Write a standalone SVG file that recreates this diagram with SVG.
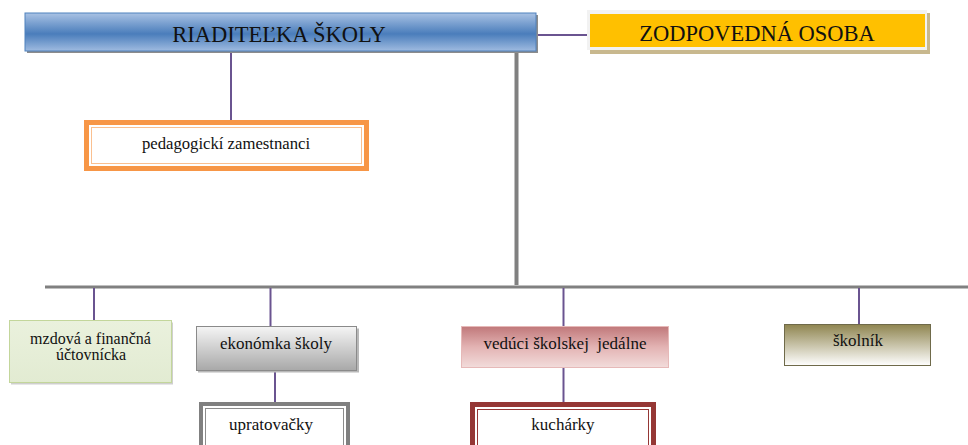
<svg xmlns="http://www.w3.org/2000/svg" width="968" height="445" viewBox="0 0 968 445">
<defs>
<linearGradient id="gBlue" x1="0" y1="0" x2="0" y2="1"><stop offset="0" stop-color="#a9c2e4"/><stop offset="0.55" stop-color="#4a7dbb"/><stop offset="1" stop-color="#9fbbe0"/></linearGradient>
<linearGradient id="gGreen" x1="0" y1="0" x2="0" y2="1"><stop offset="0" stop-color="#eaf1dd"/><stop offset="1" stop-color="#e2ebd2"/></linearGradient>
<linearGradient id="gGray" x1="0" y1="0" x2="0" y2="1"><stop offset="0" stop-color="#f5f5f5"/><stop offset="1" stop-color="#a8a8a8"/></linearGradient>
<linearGradient id="gPink" x1="0" y1="0" x2="0" y2="1"><stop offset="0" stop-color="#c0787a"/><stop offset="0.5" stop-color="#e3b3b3"/><stop offset="1" stop-color="#f2dcdb"/></linearGradient>
<linearGradient id="gOlive" x1="0" y1="0" x2="0" y2="1"><stop offset="0" stop-color="#8f8550"/><stop offset="1" stop-color="#ffffff"/></linearGradient>
</defs>
<style>
.p{stroke:#6a5490;stroke-width:2;fill:none}
.g{stroke:#808080;fill:none}
.sh{fill:#8c8c8c}
</style>
<g id="connectors">
<line class="p" x1="537" y1="35" x2="587" y2="35"/>
<line class="p" x1="231" y1="53" x2="231" y2="121"/>
<line class="g" x1="516.5" y1="53" x2="516.5" y2="285" stroke-width="4"/>
<line class="g" x1="45" y1="287" x2="968" y2="287" stroke-width="3"/>
<line class="p" x1="94" y1="288" x2="94" y2="321"/>
<line class="p" x1="270.5" y1="288" x2="270.5" y2="327"/>
<line class="p" x1="563.5" y1="288" x2="563.5" y2="327"/>
<line class="p" x1="859" y1="288" x2="859" y2="325"/>
<line class="p" x1="275" y1="371" x2="275" y2="402"/>
<line class="p" x1="563.5" y1="368" x2="563.5" y2="403"/>
</g>
<g id="riaditelka">
<rect x="27" y="15" width="511" height="38" class="sh"/>
<rect x="25" y="13" width="511" height="38" fill="url(#gBlue)" stroke="#4f81bd" stroke-width="1"/>
<text x="279" y="41.5" font-size="22.5" font-family="Liberation Serif" text-anchor="middle" fill="#111">RIADITEĽKA ŠKOLY</text>
</g>
<g id="zodpovedna">
<rect x="590" y="13" width="340" height="41" fill="#c8b88e"/>
<rect x="587" y="10" width="340" height="40" fill="#f2f2f2"/>
<rect x="590" y="14" width="335" height="33" fill="#ffc000"/>
<text x="757" y="40.5" font-size="22.5" font-family="Liberation Serif" text-anchor="middle" fill="#111">ZODPOVEDNÁ OSOBA</text>
</g>
<g id="pedagogicki">
<rect x="86.5" y="122.5" width="280" height="46" fill="#fff" stroke="#f79646" stroke-width="5"/>
<rect x="91.5" y="127.5" width="270" height="36" fill="none" stroke="#fac090" stroke-width="1"/>
<text x="226" y="148.5" font-size="16.7" font-family="Liberation Serif" text-anchor="middle" fill="#111">pedagogickí zamestnanci</text>
</g>
<g id="mzdova">
<rect x="11" y="322.5" width="162" height="62" fill="#cfcfcf"/>
<rect x="9.5" y="320.5" width="162" height="62" fill="url(#gGreen)" stroke="#c3d69b" stroke-width="1"/>
<text x="90.5" y="344" font-size="16" font-family="Liberation Serif" text-anchor="middle" fill="#111">mzdová a finančná</text>
<text x="91" y="360" font-size="16" font-family="Liberation Serif" text-anchor="middle" fill="#111">účtovnícka</text>
</g>
<g id="ekonomka">
<rect x="198" y="328.5" width="161" height="44" fill="#b8b8b8"/>
<rect x="196.5" y="326.5" width="160" height="44" fill="url(#gGray)" stroke="#8a8a8a" stroke-width="1"/>
<text x="276" y="348.5" font-size="17" font-family="Liberation Serif" text-anchor="middle" fill="#111">ekonómka školy</text>
</g>
<g id="upratovacky">
<rect x="201" y="404" width="147" height="46" fill="#fff" stroke="#808080" stroke-width="4"/>
<rect x="205.5" y="408.5" width="138" height="40" fill="none" stroke="#8c8c8c" stroke-width="1"/>
<text x="271" y="430" font-size="17" font-family="Liberation Serif" text-anchor="middle" fill="#111">upratovačky</text>
</g>
<g id="veduci">
<rect x="461.5" y="326.5" width="207" height="41" fill="url(#gPink)" stroke="#e6b9b8" stroke-width="1"/>
<text x="565" y="349" font-size="17" font-family="Liberation Serif" text-anchor="middle" fill="#111" xml:space="preserve">vedúci školskej  jedálne</text>
</g>
<g id="kucharky">
<rect x="472.5" y="404.5" width="181" height="46" fill="#fff" stroke="#953735" stroke-width="5"/>
<rect x="477.5" y="409.5" width="171" height="40" fill="none" stroke="#953735" stroke-width="1"/>
<text x="563" y="429.5" font-size="17" font-family="Liberation Serif" text-anchor="middle" fill="#111">kuchárky</text>
</g>
<g id="skolnik">
<rect x="784.5" y="324.5" width="146" height="41" fill="url(#gOlive)" stroke="#6f6a4a" stroke-width="1"/>
<text x="858" y="346" font-size="17" font-family="Liberation Serif" text-anchor="middle" fill="#111">školník</text>
</g>
</svg>
